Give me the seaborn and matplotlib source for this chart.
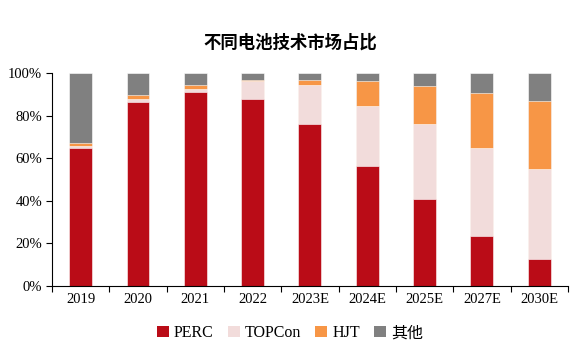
import matplotlib
matplotlib.use("Agg")
import matplotlib.pyplot as plt
import seaborn as sns
import pandas as pd
import numpy as np
from matplotlib.patches import Patch
from matplotlib.ticker import FixedLocator, PercentFormatter

categories = ["2019", "2020", "2021", "2022", "2023E", "2024E", "2025E", "2027E", "2030E"]
perc   = [65.0, 86.5, 91.2, 88.0, 76.0, 56.3, 40.8, 23.6, 12.7]
topcon = [1.0, 1.5, 1.5, 8.1, 18.2, 28.2, 35.4, 41.2, 42.4]
hjt    = [1.0, 1.7, 1.5, 0.9, 2.8, 11.7, 17.8, 25.8, 31.8]
other  = [33.0, 10.3, 5.8, 3.0, 3.0, 3.8, 6.0, 9.4, 13.1]

series_names = ["PERC", "TOPCon", "HJT", "其他"]
colors = ["#BA0C17", "#F2DCDB", "#F79646", "#808080"]

sns.set_theme(style="white")
plt.rcParams['font.family'] = ['Liberation Serif', 'Noto Sans CJK SC', 'DejaVu Sans']
plt.rcParams['text.color'] = 'black'

df = pd.DataFrame({"cat": categories, "PERC": perc, "TOPCon": topcon, "HJT": hjt, "其他": other})
cum = df[series_names].cumsum(axis=1)

fig = plt.figure(figsize=(5.8, 3.5), dpi=100)
ax = fig.add_axes([0.0897, 0.183, 0.8893, 0.608])

for name, col in reversed(list(zip(series_names, colors))):
    sns.barplot(x=df["cat"], y=cum[name], color=col, width=0.4, ax=ax,
                edgecolor="white", linewidth=0.4, saturation=1)

ax.set_ylim(0, 100)
ax.set_xlim(-0.5, len(categories) - 0.5)
ax.yaxis.set_major_locator(FixedLocator([0, 20, 40, 60, 80, 100]))
ax.yaxis.set_major_formatter(PercentFormatter(decimals=0))
ax.set_xlabel("")
ax.set_ylabel("")
for s in ["top", "right"]:
    ax.spines[s].set_visible(False)
for s in ["left", "bottom"]:
    ax.spines[s].set_color("black")
    ax.spines[s].set_linewidth(0.8)

ax.tick_params(axis="x", which="major", length=0, labelsize=10.5, pad=5, colors="black")
ax.set_xticks(np.arange(-0.5, len(categories), 1.0), minor=True)
ax.tick_params(axis="x", which="minor", length=4, direction="out", width=0.8, color="black", bottom=True)
ax.tick_params(axis="y", length=4, direction="out", width=0.8, labelsize=10.5, colors="black", left=True, pad=3)

fig.text(0.5, 0.877, "不同电池技术市场占比", ha="center", va="center", color="black",
         fontsize=12.5, fontweight="bold", family=['Noto Sans CJK SC', 'DejaVu Sans'])

handles = [Patch(facecolor=c, edgecolor="none") for c in colors]
leg = fig.legend(handles, series_names, loc="center", bbox_to_anchor=(0.5, 0.048), ncol=4,
                 frameon=False, fontsize=11.5, handlelength=0.75, handleheight=0.75,
                 handletextpad=0.3, columnspacing=0.9)
for t in leg.get_texts():
    t.set_color("black")

fig.savefig("out.png", dpi=100)
